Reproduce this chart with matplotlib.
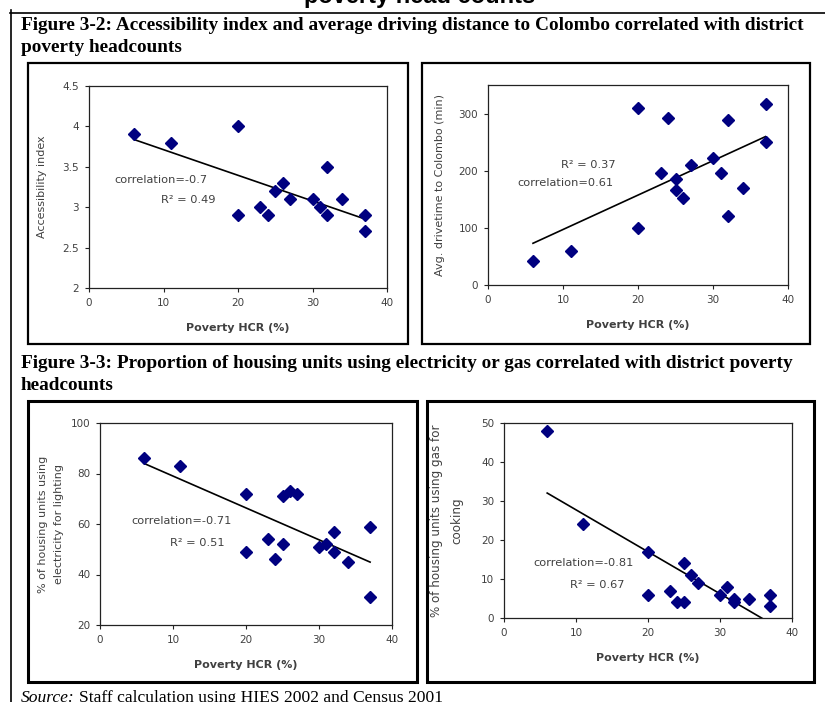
import numpy as np
import matplotlib.pyplot as plt
from matplotlib.patches import Rectangle
from matplotlib.lines import Line2D

# poverty HCR (%) vs accessibility index
hcr_acc = [6, 11, 20, 20, 23, 24, 25, 26, 27, 30, 31, 32, 32, 34, 37, 37]
access_idx = [3.9, 3.8, 4.0, 2.9, 3.0, 2.9, 3.2, 3.3, 3.1, 3.1, 3.0, 3.5, 2.9, 3.1, 2.9, 2.7]

# poverty HCR (%) vs avg drive time to Colombo (min)
hcr_drive = [6, 11, 20, 20, 23, 24, 25, 25, 26, 27, 30, 31, 32, 32, 34, 37, 37]
drive_time = [42, 59, 310, 99, 196, 292, 185, 167, 153, 210, 222, 196, 288, 120, 170, 317, 251]

# poverty HCR (%) vs % housing units using electricity for lighting
hcr_elec = [6, 11, 20, 20, 23, 24, 25, 25, 26, 27, 30, 31, 32, 32, 34, 37, 37]
elec_pct = [86, 83, 72, 49, 54, 46, 52, 71, 73, 72, 51, 52, 57, 49, 45, 59, 31]

# poverty HCR (%) vs % housing units using gas for cooking
hcr_gas = [6, 11, 20, 20, 23, 24, 25, 25, 26, 27, 30, 31, 32, 32, 34, 37, 37]
gas_pct = [48, 24, 17, 6, 7, 4, 4, 14, 11, 9, 6, 8, 5, 4, 5, 6, 3]

W, H = 825, 702
fig = plt.figure(figsize=(W / 100, H / 100), dpi=100)
plt.rcParams['font.family'] = ['DejaVu Sans']

GREY = '#404040'
NAVY = '#000080'
serif = ['Liberation Serif', 'DejaVu Serif']


def px(l, t, r, b):
    # pixel box -> figure fraction [left, bottom, width, height]
    return [l / W, 1 - b / H, (r - l) / W, (b - t) / H]


def frame(l, t, r, b, lw=1.6):
    x, y, w, h = px(l, t, r, b)
    fig.patches.append(Rectangle((x, y), w, h, transform=fig.transFigure,
                                 fill=False, edgecolor='black', linewidth=lw))


def scatter_panel(rect, x, y, ylim, yticks, ylabel, notes, ypad, ysize=8):
    ax = fig.add_axes(px(*rect))
    ax.plot(x, y, 'D', color=NAVY, markersize=6.3, linestyle='none', zorder=3)
    # linear trendline over data range
    k, c = np.polyfit(x, y, 1)
    xs = np.array([min(x), max(x)])
    ax.plot(xs, k * xs + c, color='black', linewidth=1.2, zorder=2)
    ax.set_xlim(0, 40)
    ax.set_ylim(*ylim)
    ax.set_xticks([0, 10, 20, 30, 40])
    ax.set_yticks(yticks)
    ax.set_yticklabels([('%g' % v) for v in yticks])
    ax.tick_params(direction='out', length=3, width=0.8, labelsize=7.5,
                   labelcolor=GREY, color='#222222', pad=4)
    for s in ax.spines.values():
        s.set_color('#222222')
        s.set_linewidth(0.9)
    ax.set_xlabel('Poverty HCR (%)', fontsize=8, fontweight='bold', color=GREY,
                  labelpad=11)
    ax.set_ylabel(ylabel, fontsize=ysize, color=GREY, labelpad=ypad,
                  linespacing=1.75)
    for tx, ty, s in notes:
        ax.text(tx, ty, s, fontsize=8.2, color=GREY, ha='center', va='center')
    return ax


# page decorations
fig.text(420 / W, 1 - 3 / H, 'poverty head counts', fontsize=17,
         fontweight='bold', family=['Liberation Sans'], ha='center', va='baseline')
fig.add_artist(Line2D([10 / W, 1], [1 - 13 / H, 1 - 13 / H], color='black',
                      linewidth=1.2, transform=fig.transFigure))
fig.add_artist(Line2D([11 / W, 11 / W], [0, 1 - 10 / H], color='black',
                      linewidth=1.2, transform=fig.transFigure))

fig.text(21 / W, 1 - 26 / H,
         'Figure 3-2: Accessibility index and average driving distance to Colombo correlated with district',
         fontsize=13.9, fontweight='bold', family=serif, va='center')
fig.text(21 / W, 1 - 48 / H, 'poverty headcounts',
         fontsize=13.9, fontweight='bold', family=serif, va='center')
fig.text(21 / W, 1 - 364 / H,
         'Figure 3-3: Proportion of housing units using electricity or gas correlated with district poverty',
         fontsize=13.9, fontweight='bold', family=serif, va='center')
fig.text(21 / W, 1 - 385 / H, 'headcounts',
         fontsize=13.9, fontweight='bold', family=serif, va='center')
src = fig.text(21 / W, 1 - 698 / H, 'Source:', fontsize=12.6, style='italic',
               family=serif, va='center')
bb = src.get_window_extent(renderer=fig.canvas.get_renderer())
fig.text(bb.x1 / W + 4 / W, 1 - 698 / H,
         'Staff calculation using HIES 2002 and Census 2001',
         fontsize=12.6, family=serif, va='center')

# chart boxes
frame(28, 63, 408, 344)
frame(422, 63, 810, 344)
frame(28, 401, 417, 682, lw=2.2)
frame(427, 401, 814, 682, lw=2.2)

scatter_panel((89, 86, 387, 288), hcr_acc, access_idx, (2, 4.5),
              [2, 2.5, 3, 3.5, 4, 4.5], 'Accessibility index',
              [(9.7, 3.34, 'correlation=-0.7'), (13.3, 3.09, 'R\u00b2 = 0.49')], 11)
scatter_panel((488, 85, 788, 285), hcr_drive, drive_time, (0, 350),
              [0, 100, 200, 300], 'Avg. drivetime to Colombo (min)',
              [(13.4, 210, 'R\u00b2 = 0.37'), (10.3, 179, 'correlation=0.61')], 10)
scatter_panel((100, 423, 392, 625), hcr_elec, elec_pct, (20, 100),
              [20, 40, 60, 80, 100],
              '% of housing units using\nelectricity for lighting',
              [(11.2, 61, 'correlation=-0.71'), (13.3, 52.4, 'R\u00b2 = 0.51')], 5)
scatter_panel((504, 423, 792, 618), hcr_gas, gas_pct, (0, 50),
              [0, 10, 20, 30, 40, 50],
              '% of housing units using gas for\ncooking',
              [(11.1, 14.1, 'correlation=-0.81'), (12.9, 8.5, 'R\u00b2 = 0.67')], 13, 8.6)

plt.savefig('out.png', dpi=100)
